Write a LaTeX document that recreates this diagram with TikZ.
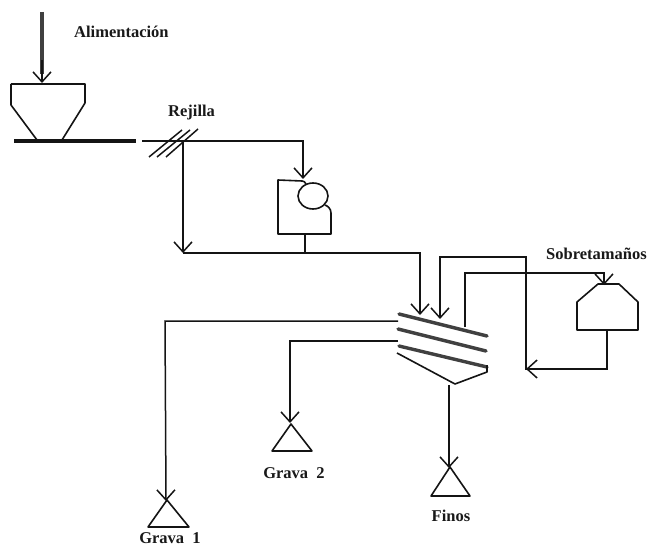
\documentclass[tikz,border=0pt]{standalone}
\usepackage{fontspec}
\setmainfont{Liberation Serif}
\usetikzlibrary{arrows.meta}
\tikzset{
  ln/.style={line width=1.5pt,draw=black!92,line join=miter},
  flow/.style={ln,-{Straight Barb[length=10pt,width=18pt,line width=1.5pt]}},
  equip/.style={line width=1.6pt,draw=black!92,line join=round},
  deck/.style={line width=3.4pt,draw=black!75,line cap=round},
  lbl/.style={font=\bfseries\fontsize{16.5}{18}\selectfont,text=black!90,inner sep=0pt,anchor=base west}
}
\begin{document}
\begin{tikzpicture}[x=1pt,y=-1pt]
\useasboundingbox[fill=white] (0,0) rectangle (648,548);
% labels
\node[lbl] (lalim) at (74,38) {Alimentación};
\node[lbl] (lrej) at (168,117) {Rejilla};
\node[lbl] (lsob) at (546,260) {Sobretamaños};
\node[lbl,anchor=base] (lg2) at (294,478) {Grava\ \ 2};
\node[lbl,anchor=base] (lfin) at (451,521) {Finos};
\node[lbl,anchor=base] (lg1) at (170,543.5) {Grava\ \ 1};
% key points
\coordinate (feedtop) at (42,12);
\coordinate (hoptop) at (42,83);
\coordinate (c1a) at (14,141);
\coordinate (c1b) at (136,141);
\coordinate (c2a) at (142,141);
\coordinate (c2b) at (303,141);
\coordinate (cr1in) at (303,179);
\coordinate (rj) at (183,141);
\coordinate (rjd) at (183,253);
\coordinate (cr1out) at (305,234);
\coordinate (cr1j) at (305,253);
\coordinate (b1) at (420,253);
\coordinate (d1a) at (420,315);
\coordinate (r1) at (526,369);
\coordinate (r1b) at (526,369.7);
\coordinate (r2) at (526,257);
\coordinate (r3) at (440,257);
\coordinate (d1b) at (440,319);
\coordinate (t0) at (465,327);
\coordinate (t1) at (465,273);
\coordinate (t2) at (604,273);
\coordinate (cr2in) at (604,285);
\coordinate (cr2out) at (607,330);
\coordinate (cr2d) at (607,369);
\coordinate (g1s) at (398,321);
\coordinate (g1c) at (165,321);
\coordinate (g1e) at (166,501);
\coordinate (g2s) at (398,341);
\coordinate (g2c) at (290,341);
\coordinate (g2e) at (290,423);
\coordinate (fs) at (449,385);
\coordinate (fe) at (449,468);
% feed
\draw[line width=3.2pt,draw=black!75] (feedtop) -- ++(0,62);
\draw[flow] (42,60) -- (hoptop);
% hopper
\draw[equip] (11,84) -- (85,84) -- (85,103) -- (62,140) (37,140) -- (11,105) -- (11,84);
% conveyor
\draw[line width=3.2pt,draw=black!92] (c1a) -- (c1b);
\draw[flow] (c2a) -- (c2b) -- (cr1in);
% grate
\draw[ln] (149,157) -- (182,130) (157,157) -- (190,130) (166,157) -- (198,129);
\draw[flow] (rj) -- (rjd);
\draw[ln] (rjd) -- (cr1j);
% crusher 1
\draw[equip] (302,181) -- (278,180) -- (278,234) -- (331,234) -- (331,213) .. controls (331,209) and (328,206) .. (325,205);
\draw[equip] (302,181) .. controls (304,181) and (305,182) .. (306,184);
\draw[equip] (313,196) ellipse [x radius=15,y radius=13];
\draw[ln] (cr1out) -- (cr1j);
\draw[flow] (cr1j) -- (b1) -- (d1a);
% screen
\draw[deck] (399,314) -- (487,336);
\draw[deck] (398,329) -- (486,351);
\draw[deck] (399,346) -- (487,367);
\draw[equip] (397,353) -- (455,384) -- (487,372) -- (487,365);
% recirculation
\draw[flow] (t0) -- (t1) -- (t2) -- (cr2in);
\draw[equip] (577,302) -- (598,284) -- (619,284) -- (638,302) -- (638,330) -- (577,330) -- cycle;
\draw[flow] (cr2out) -- (cr2d) -- (r1);
\draw[flow] (r1b) -- (r2) -- (r3) -- (d1b);
% products
\draw[flow] (g1s) -- (g1c) -- (g1e);
\draw[flow] (g2s) -- (g2c) -- (g2e);
\draw[flow] (fs) -- (fe);
\draw[equip] (167,500) -- (148,527) -- (189,527) -- cycle;
\draw[equip] (291,424) -- (272,451) -- (312,451) -- cycle;
\draw[equip] (450,467) -- (431,496) -- (470,496) -- cycle;
\end{tikzpicture}
\end{document}
